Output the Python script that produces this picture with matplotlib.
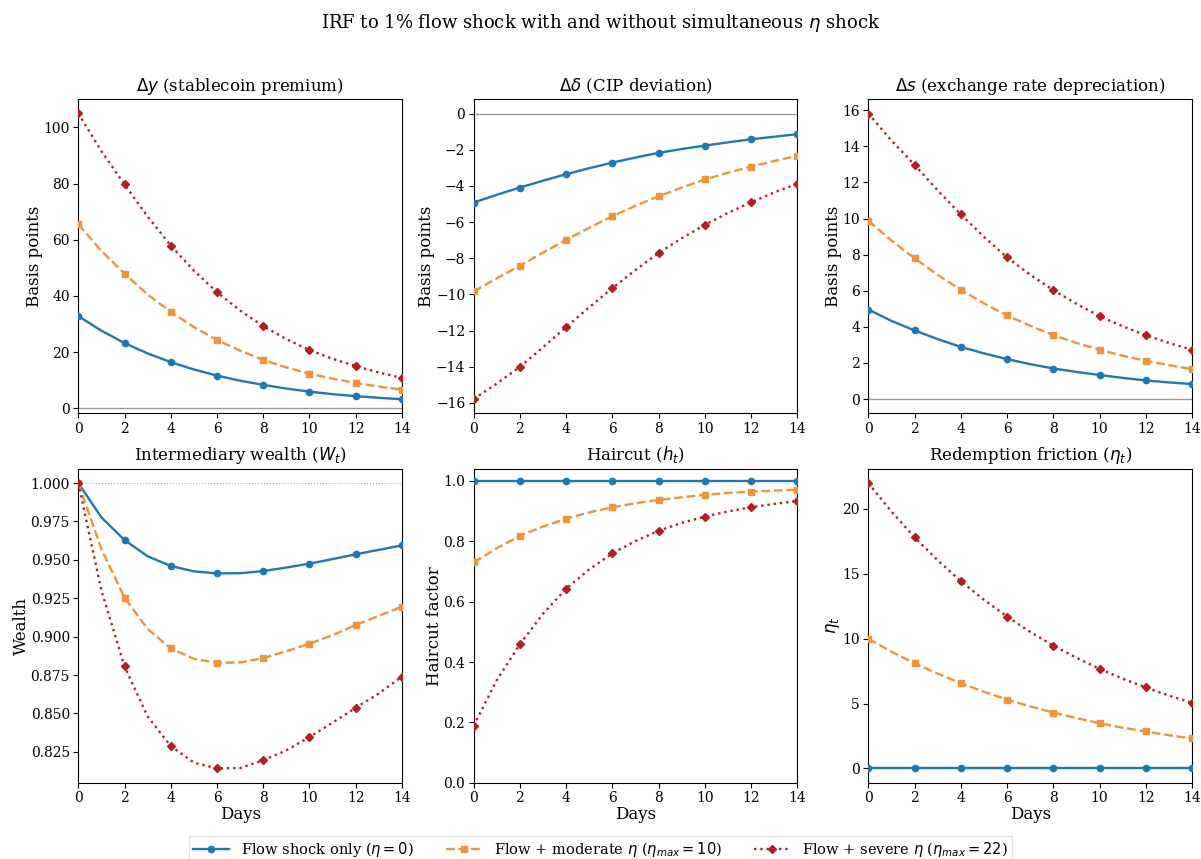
import matplotlib
matplotlib.use("Agg")
import matplotlib.pyplot as plt

plt.rcParams["font.family"] = "DejaVu Serif"
plt.rcParams["mathtext.fontset"] = "dejavusans"

# ------------------------------------------------------------------
# Data (daily, days 0..14)
# ------------------------------------------------------------------
days = list(range(15))

dy_flow = [32.8, 27.6, 23.2, 19.5, 16.4, 13.8, 11.6, 9.8, 8.3, 7.0, 5.9, 5.0, 4.3, 3.7, 3.2]
dy_mod = [65.5, 56.0, 47.9, 40.5, 34.3, 28.9, 24.3, 20.5, 17.2, 14.5, 12.3, 10.5, 9.0, 7.7, 6.6]
dy_sev = [105.0, 91.5, 79.7, 68.2, 57.9, 49.0, 41.3, 34.8, 29.2, 24.6, 20.7, 17.6, 15.0, 12.7, 10.8]

dd_flow = [-4.92, -4.49, -4.09, -3.71, -3.35, -3.02, -2.71, -2.43, -2.17, -1.96, -1.77, -1.59, -1.42, -1.28, -1.14]
dd_mod = [-9.83, -9.11, -8.41, -7.69, -6.98, -6.31, -5.67, -5.10, -4.57, -4.09, -3.64, -3.27, -2.93, -2.62, -2.34]
dd_sev = [-15.78, -14.93, -14.00, -12.92, -11.80, -10.71, -9.65, -8.65, -7.71, -6.89, -6.15, -5.49, -4.90, -4.36, -3.88]

ds_flow = [4.96, 4.33, 3.80, 3.32, 2.89, 2.53, 2.21, 1.93, 1.69, 1.50, 1.33, 1.17, 1.03, 0.92, 0.83]
ds_mod = [9.88, 8.78, 7.80, 6.88, 6.05, 5.30, 4.63, 4.06, 3.54, 3.11, 2.73, 2.40, 2.12, 1.88, 1.66]
ds_sev = [15.82, 14.32, 12.98, 11.56, 10.23, 8.99, 7.85, 6.89, 6.03, 5.28, 4.59, 4.03, 3.54, 3.11, 2.73]

w_flow = [1.000, 0.9776, 0.9629, 0.9523, 0.9460, 0.9425, 0.9412, 0.9413, 0.9427, 0.9450, 0.9475, 0.9505, 0.9536, 0.9565, 0.9594]
w_mod = [1.000, 0.9570, 0.9253, 0.9050, 0.8923, 0.8856, 0.8830, 0.8832, 0.8860, 0.8905, 0.8954, 0.9010, 0.9076, 0.9135, 0.9195]
w_sev = [1.000, 0.9300, 0.8806, 0.8480, 0.8288, 0.8180, 0.8142, 0.8145, 0.8195, 0.8260, 0.8346, 0.8440, 0.8537, 0.8630, 0.8740]

h_flow = [1.0] * 15
h_mod = [0.730, 0.777, 0.818, 0.849, 0.875, 0.896, 0.913, 0.926, 0.937, 0.946, 0.954, 0.960, 0.965, 0.968, 0.971]
h_sev = [0.189, 0.340, 0.459, 0.560, 0.643, 0.707, 0.760, 0.801, 0.835, 0.861, 0.882, 0.899, 0.913, 0.924, 0.934]

eta_flow = [0.0] * 15
eta_mod = [10.0, 9.0, 8.11, 7.30, 6.57, 5.91, 5.31, 4.78, 4.31, 3.88, 3.49, 3.14, 2.85, 2.56, 2.31]
eta_sev = [22.0, 19.8, 17.82, 16.04, 14.43, 13.0, 11.71, 10.53, 9.47, 8.53, 7.68, 6.92, 6.24, 5.62, 5.06]

labels = [r"Flow shock only ($\eta = 0$)",
          r"Flow + moderate $\eta$ ($\eta_{max} = 10$)",
          r"Flow + severe $\eta$ ($\eta_{max} = 22$)"]

panels = [
    (r"$\Delta y$ (stablecoin premium)", "Basis points", (dy_flow, dy_mod, dy_sev), (-1.8, 110.0), "zero"),
    (r"$\Delta \delta$ (CIP deviation)", "Basis points", (dd_flow, dd_mod, dd_sev), (-16.57, 0.79), "zero"),
    (r"$\Delta s$ (exchange rate depreciation)", "Basis points", (ds_flow, ds_mod, ds_sev), (-0.79, 16.61), "zero"),
    (r"Intermediary wealth ($W_t$)", "Wealth", (w_flow, w_mod, w_sev), None, "one"),
    (r"Haircut ($h_t$)", "Haircut factor", (h_flow, h_mod, h_sev), (0.0, 1.0405), None),
    (r"Redemption friction ($\eta_t$)", r"$\eta_t$", (eta_flow, eta_mod, eta_sev), None, None),
]

colors = ["#1f77b4", "#f1933b", "#b51d24"]
styles = ["-", "--", ":"]
markers = ["o", "s", "D"]

# ------------------------------------------------------------------
# Figure
# ------------------------------------------------------------------
fig = plt.figure(figsize=(12.01, 8.59), dpi=100)
fig.suptitle(r"IRF to 1% flow shock with and without simultaneous $\eta$ shock",
             fontsize=13, y=0.986)

lefts = [0.0652, 0.3944, 0.7230]
bottoms = [0.5189, 0.0888]
w, h = 0.2695, 0.3655

handles = []
for i, (title, ylabel, series, ylim, ref) in enumerate(panels):
    r, c = divmod(i, 3)
    ax = fig.add_axes([lefts[c], bottoms[r], w, h])
    if ref == "zero":
        ax.axhline(0, color="#999999", lw=1.0, zorder=1)
    elif ref == "one":
        ax.axhline(1.0, color="#aaaaaa", lw=0.8, ls=":", zorder=1)
    for k, ys in enumerate(series):
        ln, = ax.plot(days, ys, color=colors[k], ls=styles[k], lw=1.7,
                      marker=markers[k], markersize=4.5, markevery=2, zorder=3)
        if i == 0:
            handles.append(ln)
    ax.set_title(title, fontsize=12)
    ax.set_ylabel(ylabel, fontsize=12, labelpad=0.5)
    ax.set_xlim(0, 14)
    ax.set_xticks(range(0, 15, 2))
    if ylim is not None:
        ax.set_ylim(*ylim)
    if r == 1:
        ax.set_xlabel("Days", fontsize=12, labelpad=0.5)
    ax.tick_params(labelsize=10, pad=2.5)

fig.legend(handles, labels, loc="upper center", ncol=3, fontsize=10.5,
           bbox_to_anchor=(0.5, 1 - 836 / 859), borderaxespad=0.0,
           borderpad=0.25, frameon=True, handlelength=2.5,
           columnspacing=2.2, fancybox=False, edgecolor="#dddddd")

fig.savefig("out.png", dpi=100)
